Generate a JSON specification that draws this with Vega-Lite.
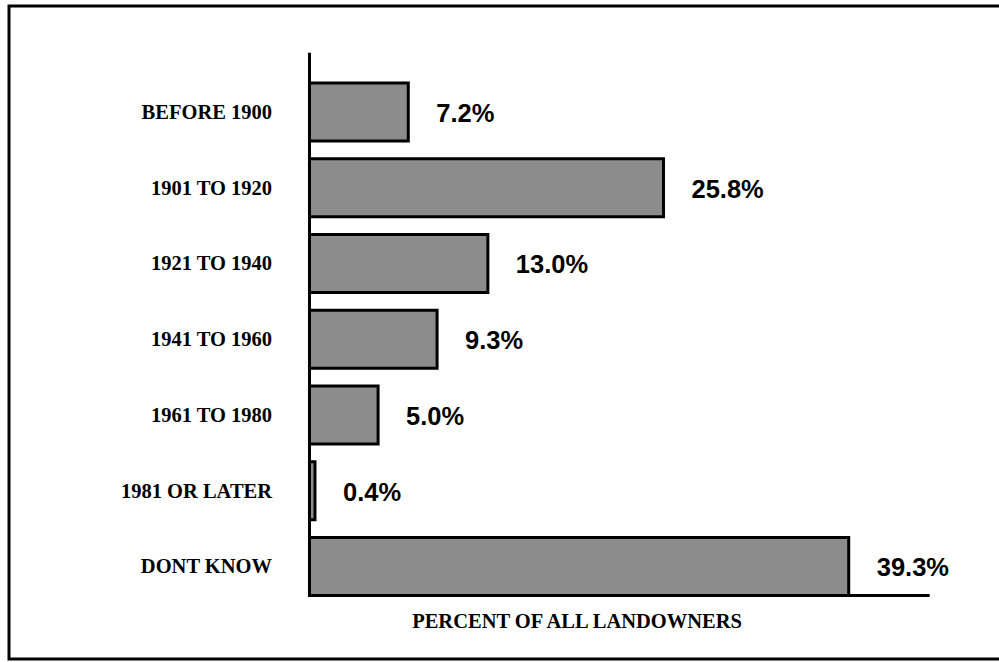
{
  "$schema": "https://vega.github.io/schema/vega-lite/v6.json",
  "width": 996,
  "height": 653,
  "autosize": "none",
  "padding": {"left": 9, "top": 6, "right": -6, "bottom": 3},
  "background": "white",
  "config": {
    "view": {"stroke": "black", "strokeWidth": 3}
  },
  "data": {
    "values": [
      {"period": "BEFORE 1900", "share": 0.072},
      {"period": "1901 TO 1920", "share": 0.258},
      {"period": "1921 TO 1940", "share": 0.130},
      {"period": "1941 TO 1960", "share": 0.093},
      {"period": "1961 TO 1980", "share": 0.050},
      {"period": "1981 OR LATER", "share": 0.004},
      {"period": "DONT KNOW", "share": 0.393}
    ]
  },
  "layer": [
    {
      "mark": {"type": "bar", "fill": "#8c8c8c", "stroke": "black", "strokeWidth": 3},
      "encoding": {
        "y": {
          "field": "period",
          "type": "nominal",
          "axis": null,
          "scale": {
            "domain": ["BEFORE 1900", "1901 TO 1920", "1921 TO 1940", "1941 TO 1960", "1961 TO 1980", "1981 OR LATER", "DONT KNOW"],
            "paddingInner": 0.2343,
            "paddingOuter": 0.9275,
            "align": 0.548
          }
        },
        "x": {
          "field": "share",
          "type": "quantitative",
          "axis": null,
          "scale": {"domain": [-0.219, 0.5069], "nice": false, "zero": false}
        },
        "x2": {"datum": 0}
      }
    },
    {
      "mark": {"type": "text", "align": "right", "baseline": "middle", "font": "Liberation Serif", "fontWeight": "bold", "fontSize": 20.5, "dy": 1, "color": "black"},
      "encoding": {
        "y": {"field": "period", "type": "nominal"},
        "x": {"datum": -0.0273, "type": "quantitative"},
        "text": {"field": "period"}
      }
    },
    {
      "mark": {"type": "text", "align": "left", "baseline": "middle", "font": "Liberation Sans", "fontWeight": "bold", "fontSize": 25.5, "dx": 28, "dy": 2, "color": "black"},
      "encoding": {
        "y": {"field": "period", "type": "nominal"},
        "x": {"field": "share", "type": "quantitative"},
        "text": {"field": "share", "type": "quantitative", "format": ".1%"}
      }
    },
    {
      "data": {"values": [{}]},
      "mark": {"type": "rule", "color": "black", "strokeWidth": 3},
      "encoding": {
        "x": {"datum": 0, "type": "quantitative"},
        "y": {"datum": "BEFORE 1900", "type": "nominal", "bandPosition": -0.52},
        "y2": {"datum": "DONT KNOW", "bandPosition": 1}
      }
    },
    {
      "data": {"values": [{}]},
      "mark": {"type": "rule", "color": "black", "strokeWidth": 3},
      "encoding": {
        "x": {"datum": 0, "type": "quantitative"},
        "x2": {"datum": 0.452},
        "y": {"datum": "DONT KNOW", "type": "nominal", "bandPosition": 1}
      }
    },
    {
      "data": {"values": [{}]},
      "mark": {"type": "text", "align": "center", "baseline": "middle", "font": "Liberation Serif", "fontWeight": "bold", "fontSize": 20.5, "color": "black"},
      "encoding": {
        "x": {"datum": 0.195, "type": "quantitative"},
        "y": {"datum": "DONT KNOW", "type": "nominal", "bandPosition": 1.46},
        "text": {"value": "PERCENT OF ALL LANDOWNERS"}
      }
    }
  ]
}
